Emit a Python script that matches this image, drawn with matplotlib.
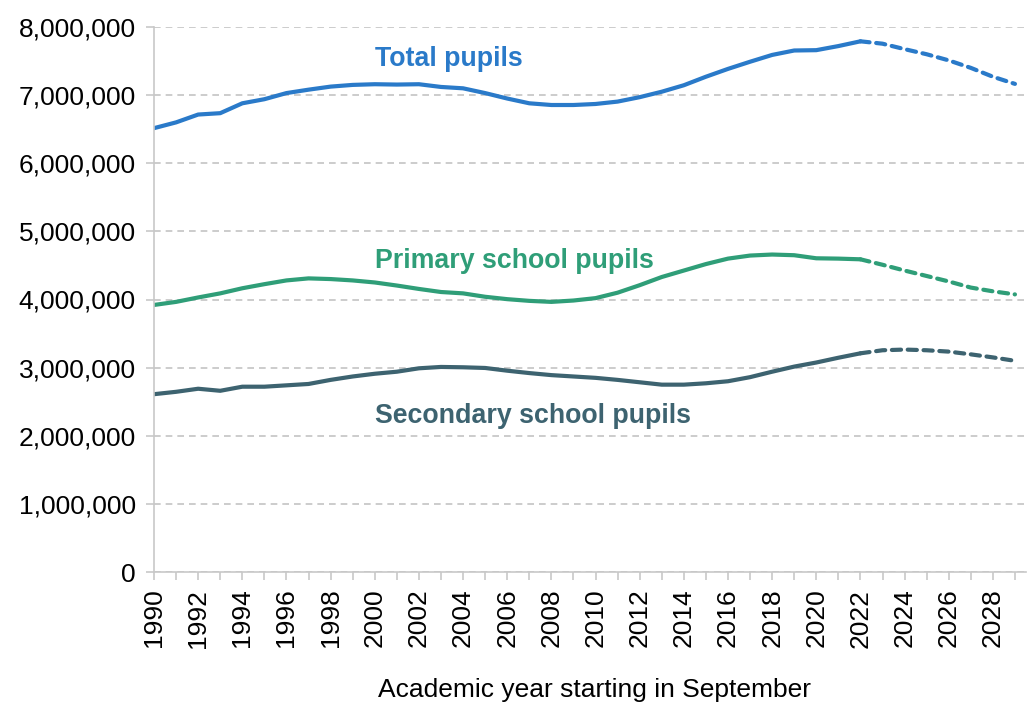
import numpy as np
import matplotlib.pyplot as plt
from matplotlib.ticker import FuncFormatter, MultipleLocator

plt.rcParams['font.family'] = ['Liberation Sans', 'DejaVu Sans']

years = np.arange(1990, 2030)
# pupil numbers (millions); 2023 onwards are projections
total = [6.515, 6.60, 6.715, 6.735, 6.88, 6.94, 7.03, 7.08, 7.125, 7.15,
         7.16, 7.155, 7.16, 7.12, 7.10, 7.03, 6.95, 6.88, 6.855, 6.855,
         6.87, 6.905, 6.97, 7.05, 7.145, 7.27, 7.385, 7.49, 7.59, 7.655,
         7.66, 7.72, 7.79, 7.755, 7.675, 7.60, 7.51, 7.40, 7.27, 7.165]
primary = [3.92, 3.965, 4.03, 4.09, 4.165, 4.225, 4.28, 4.31, 4.30, 4.28,
           4.25, 4.205, 4.155, 4.11, 4.09, 4.04, 4.005, 3.98, 3.965, 3.985,
           4.02, 4.10, 4.21, 4.33, 4.425, 4.52, 4.60, 4.645, 4.66, 4.65,
           4.605, 4.60, 4.59, 4.51, 4.425, 4.345, 4.265, 4.175, 4.12, 4.075]
secondary = [2.61, 2.645, 2.69, 2.66, 2.72, 2.72, 2.74, 2.76, 2.82, 2.87,
             2.91, 2.94, 2.99, 3.01, 3.005, 2.995, 2.955, 2.92, 2.89, 2.87,
             2.85, 2.82, 2.785, 2.75, 2.75, 2.77, 2.80, 2.86, 2.94, 3.015,
             3.075, 3.145, 3.21, 3.255, 3.265, 3.255, 3.235, 3.195, 3.15, 3.10]
last_actual = 2022

series = [
    ('Total pupils', total, '#2a7ac9', 7.53e6),
    ('Primary school pupils', primary, '#2f9e78', 4.57e6),
    ('Secondary school pupils', secondary, '#3d6370', 2.29e6),
]

fig = plt.figure(figsize=(10.28, 7.04), dpi=100)
ax = fig.add_axes([154 / 1028, 1 - 572 / 704, (1026 - 154) / 1028, (572 - 27) / 704])

cut = list(years).index(last_actual)
for name, vals, col, ly in series:
    v = np.array(vals) * 1e6
    ax.plot(years[:cut + 1], v[:cut + 1], color=col, lw=3, solid_capstyle='round')
    ax.plot(years[cut:], v[cut:], color=col, lw=3, ls=(0, (2.2, 1.6)), dash_capstyle='round')
    ax.text(2000, ly, name, color=col, fontsize=19.3, fontweight='bold', va='center', ha='left')

ax.set_xlim(1990, 2029.5)
ax.set_ylim(0, 8e6)
ax.yaxis.set_major_locator(MultipleLocator(1e6))
ax.yaxis.set_major_formatter(FuncFormatter(lambda v, p: f'{int(v):,}'))
ax.set_xticks(years)
ax.set_xticklabels([str(y) if y % 2 == 0 else '' for y in years], rotation=90)
ax.grid(axis='y', color='#c4c4c4', ls=(0, (4, 3)), lw=1.2)
ax.set_axisbelow(True)

for s in ['top', 'right']:
    ax.spines[s].set_visible(False)
ax.spines['left'].set_color('#c8c8c8')
ax.spines['bottom'].set_color('#c8c8c8')
ax.spines['left'].set_linewidth(1.2)
ax.spines['bottom'].set_linewidth(1.2)
ax.tick_params(axis='y', length=6, width=1.2, color='#c8c8c8', labelsize=19, pad=7)
ax.tick_params(axis='x', length=6, width=1.2, color='#c8c8c8', labelsize=19, pad=6)

fig.text(595 / 1028, 1 - 690 / 704, 'Academic year starting in September',
         fontsize=19, ha='center', va='center')

fig.savefig('out.png', dpi=100)
